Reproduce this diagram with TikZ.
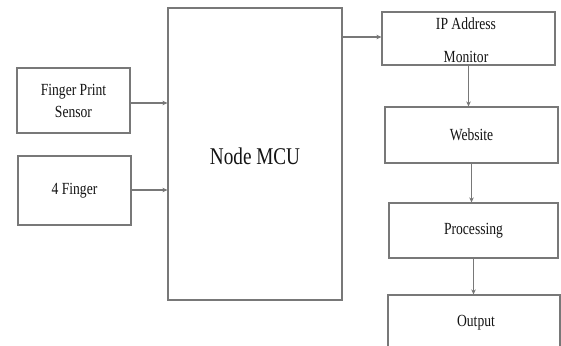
\documentclass[tikz,border=0pt]{standalone}
\usepackage{fontspec}
\setmainfont{Liberation Serif}
\usetikzlibrary{arrows.meta}
\newcommand\sq[1]{\scalebox{0.8}[1]{#1}}
\definecolor{linegray}{RGB}{120,120,120}
\definecolor{txt}{RGB}{20,20,20}
\tikzset{
  box/.style={draw=linegray, line width=1.2pt, rectangle, inner sep=0pt, text=txt,
    align=center, font=\fontsize{17}{22}\selectfont},
  lbl/.style={text=txt, align=center, inner sep=0pt, font=\fontsize{17}{22}\selectfont},
  conn/.style={draw=linegray, line width=1.1pt, -{Stealth[length=5pt,width=4.5pt,fill=txt]}}
}
\begin{document}
\begin{tikzpicture}[x=1pt,y=-1pt]
\clip (0,0) rectangle (561,345);
\fill[white] (0,0) rectangle (561,345);
\node[box, minimum width=174, minimum height=292] (mcu) at (255,154) {};
\node[lbl, font=\fontsize{24}{28}\selectfont] (mcut) at (255,156) {\sq{Node MCU}};
\node[box, minimum width=113, minimum height=65] (fps) at (73.5,100.5) {\sq{Finger Print}\\\sq{Sensor}};
\node[box, minimum width=113, minimum height=69] (four) at (74.5,190.5) {\sq{4 Finger}};
\node[box, minimum width=173, minimum height=53] (ip) at (468.5,38.5) {};
\node[lbl] (ipt1) at (466,24) {\sq{IP Address}};
\node[lbl] (ipt2) at (466,57) {\sq{Monitor}};
\node[box, minimum width=173, minimum height=56] (web) at (471.5,135) {\sq{Website}};
\node[box, minimum width=169, minimum height=55] (proc) at (473.5,230.5) {\sq{Processing}};
\node[box, minimum width=172, minimum height=100] (out) at (474,345) {};
\node[lbl] (outt) at (476,323) {\sq{Output}};
\draw[conn] (fps.east |- 0,103) -- (mcu.west |- 0,103);
\draw[conn] (four.east |- 0,190) -- (mcu.west |- 0,190);
\draw[conn] (mcu.east |- 0,37) -- (ip.west |- 0,37);
\draw[conn] (ip.south) -- (ip.south |- web.north);
\draw[conn] (web.south) -- (web.south |- proc.north);
\draw[conn] (proc.south) -- (proc.south |- out.north);
\end{tikzpicture}
\end{document}
